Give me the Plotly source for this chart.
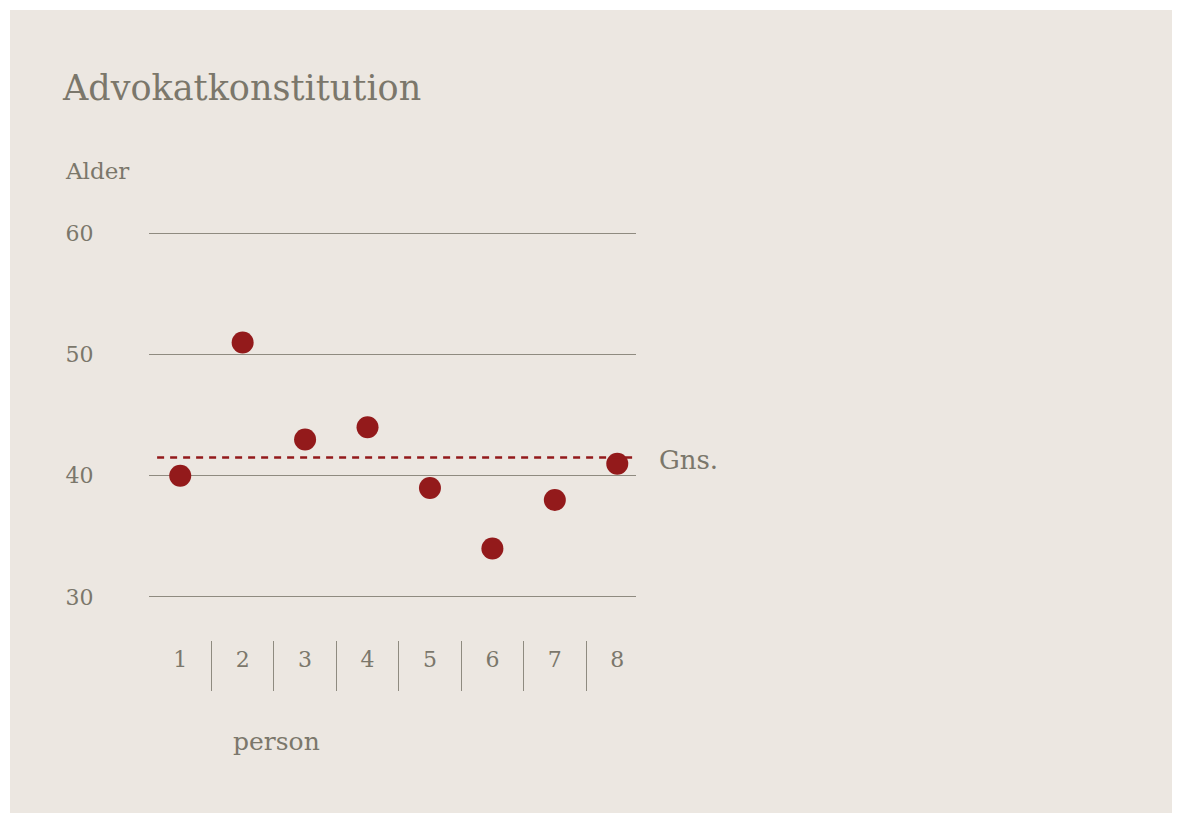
import plotly.graph_objects as go

# data
person = [1, 2, 3, 4, 5, 6, 7, 8]
alder = [40, 51, 43, 44, 39, 34, 38, 41]
gns = 41.5
y_ticks = [30, 40, 50, 60]

BG = '#ECE7E1'
TEXT = '#7b776b'
GRID = '#8f8b80'
RED = '#931a1b'
FONT = 'DejaVu Serif'

OFF = 8  # the page puts the figure 8px in from the corner
W, H = 1180 - OFF, 813 - OFF
L, R, T, B = 149 - OFF, 636 - OFF, 231 - OFF, 640 - OFF  # plot area


def px(x):
    return (x - OFF - L) / (R - L)


def py(y):
    return (B - (y - OFF)) / (B - T)


fig = go.Figure()

fig.add_trace(
    go.Scatter(
        x=person,
        y=alder,
        mode='markers',
        marker=dict(size=22, color=RED),
        hoverinfo='x+y',
        showlegend=False,
    )
)

# panel behind everything
fig.add_shape(type='rect', xref='paper', yref='paper',
              x0=px(10), x1=px(1200), y0=py(830), y1=py(10),
              fillcolor=BG, line=dict(width=0), layer='below')

# average line
fig.add_shape(type='line', xref='x', yref='y',
              x0=0.63, x1=8.3, y0=gns, y1=gns,
              line=dict(color=RED, width=2.5, dash='7px,6px'))

fig.add_annotation(x=8.3, y=gns, xref='x', yref='y', text='Gns.',
                   showarrow=False, xanchor='left', yanchor='middle',
                   xshift=21, yshift=-2,
                   font=dict(family=FONT, size=26, color=TEXT))

fig.add_annotation(x=px(63), y=py(171), xref='paper', yref='paper',
                   text='Alder', showarrow=False, xanchor='left',
                   yanchor='middle',
                   font=dict(family=FONT, size=23, color=TEXT))

fig.add_annotation(x=px(276), y=py(741), xref='paper', yref='paper',
                   text='person', showarrow=False, xanchor='center',
                   yanchor='middle',
                   font=dict(family=FONT, size=25, color=TEXT))

fig.update_layout(
    width=W,
    height=H,
    margin=dict(l=L, r=W - R, t=T, b=H - B),
    paper_bgcolor='white',
    plot_bgcolor='rgba(0,0,0,0)',
    title=dict(text='Advokatkonstitution', x=(63 - OFF) / W,
               xanchor='left', xref='container',
               y=1 - (88 - OFF) / H, yanchor='middle',
               font=dict(family=FONT, size=35, color=TEXT)),
    xaxis=dict(
        range=[0.5, 8.3],
        tickvals=person,
        ticktext=[str(p) for p in person],
        ticks='outside', ticklen=0, tickcolor='rgba(0,0,0,0)',
        tickfont=dict(family=FONT, size=22, color=TEXT),
        showgrid=False, zeroline=False, showline=False,
        minor=dict(tickvals=[p + 0.5 for p in person[:-1]],
                   ticks='outside', ticklen=50, tickcolor=GRID,
                   tickwidth=1, showgrid=False),
        fixedrange=True,
    ),
    yaxis=dict(
        range=[26.45, 60.2],
        tickvals=y_ticks,
        ticks='outside', ticklen=50, tickcolor='rgba(0,0,0,0)',
        tickfont=dict(family=FONT, size=22, color=TEXT),
        showgrid=True, gridcolor=GRID, gridwidth=1,
        zeroline=False, showline=False,
        fixedrange=True,
    ),
)

fig.write_html('out.html')
